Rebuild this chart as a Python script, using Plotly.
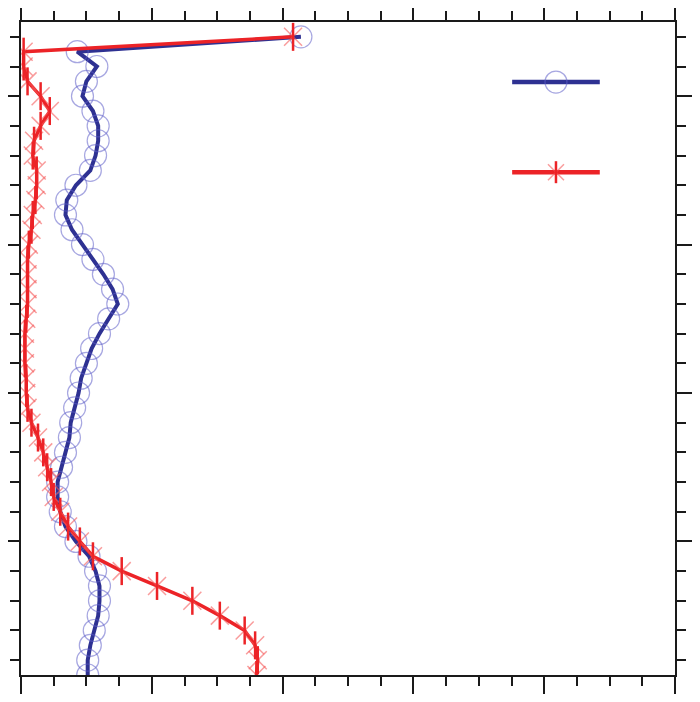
"""Vertical profile of two series, circle and asterisk markers."""

import plotly.graph_objects as go

# level index, top to bottom
LEVELS = [44, 43, 42, 41, 40, 39, 38, 37, 36, 35, 34, 33, 32, 31, 30, 29, 28, 27, 26, 25, 24, 23,
          22, 21, 20, 19, 18, 17, 16, 15, 14, 13, 12, 11, 10, 9, 8, 7, 6, 5, 4, 3, 2, 1]

BLUE_VALUES = [2.14, 0.43, 0.58, 0.50, 0.47, 0.55, 0.59, 0.59, 0.57, 0.53, 0.42, 0.35, 0.34, 0.39,
               0.47, 0.55, 0.63, 0.70, 0.74, 0.67, 0.60, 0.54, 0.50, 0.46, 0.44, 0.41, 0.38, 0.37,
               0.34, 0.31, 0.28, 0.28, 0.30, 0.34, 0.42, 0.52, 0.57, 0.60, 0.60, 0.59, 0.56, 0.53,
               0.51, 0.51]

RED_VALUES = [2.08, 0.02, 0.02, 0.05, 0.15, 0.22, 0.15, 0.10, 0.09, 0.12, 0.12, 0.11, 0.09, 0.08,
              0.06, 0.05, 0.05, 0.05, 0.05, 0.04, 0.03, 0.03, 0.03, 0.04, 0.04, 0.05, 0.08, 0.13,
              0.17, 0.20, 0.23, 0.25, 0.30, 0.36, 0.45, 0.55, 0.77, 1.04, 1.31, 1.52, 1.71, 1.79,
              1.81, 1.80]

BLUE = "#2e3192"
BLUE_MARKER = "rgba(95, 95, 200, 0.55)"
RED = "#ec2327"
RED_MARKER = "rgba(245, 90, 90, 0.6)"
AXIS = "#1a1a1a"

fig = go.Figure()

fig.add_trace(
    go.Scatter(
        x=BLUE_VALUES,
        y=LEVELS,
        mode="lines+markers",
        line=dict(color=BLUE, width=4),
        marker=dict(symbol="circle-open", size=22, color=BLUE_MARKER, line=dict(width=1.2, color=BLUE_MARKER)),
        showlegend=False,
    )
)
fig.add_trace(
    go.Scatter(
        x=RED_VALUES,
        y=LEVELS,
        mode="lines+markers",
        line=dict(color=RED, width=3.5),
        marker=dict(symbol="x-thin-open", size=18, color=RED_MARKER, line=dict(width=1.5, color=RED_MARKER)),
        showlegend=False,
    )
)
fig.add_trace(
    go.Scatter(
        x=RED_VALUES,
        y=LEVELS,
        mode="markers",
        marker=dict(symbol="line-ns-open", size=20, color=RED, line=dict(width=2.5, color=RED)),
        showlegend=False,
    )
)

# legend samples drawn by hand, no labels in the source
legend_rows = [(0.908, BLUE, BLUE_MARKER, "circle"), (0.770, RED, RED_MARKER, "star")]
for y_pos, line_color, marker_color, kind in legend_rows:
    fig.add_shape(
        type="line", xref="paper", yref="paper", x0=0.751, x1=0.885, y0=y_pos, y1=y_pos,
        line=dict(color=line_color, width=4.5),
    )
    if kind == "circle":
        fig.add_shape(
            type="circle", xref="paper", yref="paper", xsizemode="pixel", ysizemode="pixel",
            xanchor=0.818, yanchor=y_pos, x0=-11, x1=11, y0=-11, y1=11,
            line=dict(color=marker_color, width=1.3),
        )
    else:
        fig.add_shape(
            type="path", xref="paper", yref="paper", xsizemode="pixel", ysizemode="pixel",
            xanchor=0.818, yanchor=y_pos, path="M-8,-8 L8,8 M-8,8 L8,-8",
            line=dict(color=marker_color, width=1.5),
        )
        fig.add_shape(
            type="path", xref="paper", yref="paper", xsizemode="pixel", ysizemode="pixel",
            xanchor=0.818, yanchor=y_pos, path="M0,-11 L0,11",
            line=dict(color=line_color, width=2.5),
        )

axis_common = dict(
    showgrid=False,
    zeroline=False,
    showticklabels=False,
    showline=True,
    linecolor=AXIS,
    linewidth=2,
    mirror="ticks",
    ticks="outside",
    ticklen=18,
    tickwidth=2,
    tickcolor=AXIS,
    automargin=False,
)

fig.update_xaxes(
    range=[0, 5],
    tick0=0,
    dtick=1,
    minor=dict(dtick=0.25, ticks="outside", ticklen=9, tickwidth=2, tickcolor=AXIS, showgrid=False),
    **axis_common,
)
fig.update_yaxes(
    range=[1, 45],
    tick0=0,
    dtick=10,
    minor=dict(dtick=2, ticks="outside", ticklen=9, tickwidth=2, tickcolor=AXIS, showgrid=False),
    **axis_common,
)

# the page body keeps its 8px margin, so the figure is sized to fit inside it
fig.update_layout(
    width=684,
    height=686,
    margin=dict(l=13, r=17, t=14, b=19),
    paper_bgcolor="white",
    plot_bgcolor="white",
    showlegend=False,
)

fig.write_html("out.html")
